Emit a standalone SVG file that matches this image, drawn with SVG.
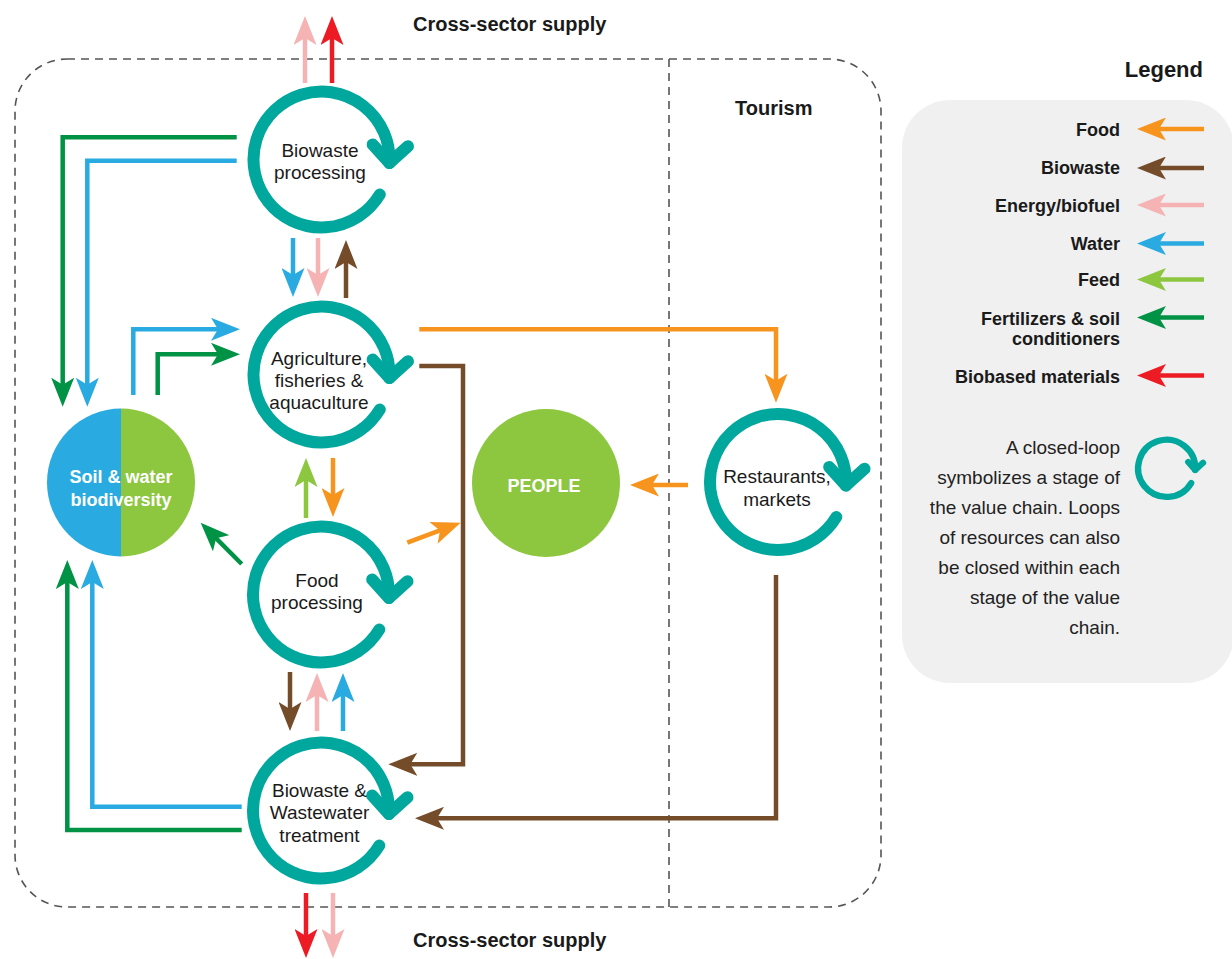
<svg xmlns="http://www.w3.org/2000/svg" xmlns:xlink="http://www.w3.org/1999/xlink" width="1232" height="959" viewBox="0 0 1232 959">
<style>
text{font-family:"Liberation Sans",Arial,sans-serif;fill:#1a1a1a}
.lbl{font-size:19px;text-anchor:middle}
.b{font-weight:bold}
.wt{font-weight:bold;fill:#fff;font-size:18px;text-anchor:middle}
.leg{font-size:18px;font-weight:bold;text-anchor:end}
.desc{font-size:19px;text-anchor:end;fill:#222}
.ring{fill:none;stroke:#00a79d;stroke-width:12;stroke-linecap:round;stroke-linejoin:round}
.c{fill:none;stroke-width:4.5;stroke-linejoin:miter}
.or{stroke:#f7941d}.br{stroke:#754c29}.pk{stroke:#f5b3b4}.bl{stroke:#29abe2}.lg{stroke:#8dc63f}.dg{stroke:#009245}.rd{stroke:#ed1c24}
.dash{fill:none;stroke:#555;stroke-width:1.6;stroke-dasharray:8 6}
</style>
<defs>
<marker id="m-or" viewBox="0 0 29 23" refX="19" refY="11.5" markerWidth="29" markerHeight="23" markerUnits="userSpaceOnUse" orient="auto"><path d="M29,11.5 L0,0 L7,11.5 L0,23 Z" fill="#f7941d"/></marker>
<marker id="m-br" viewBox="0 0 29 23" refX="19" refY="11.5" markerWidth="29" markerHeight="23" markerUnits="userSpaceOnUse" orient="auto"><path d="M29,11.5 L0,0 L7,11.5 L0,23 Z" fill="#754c29"/></marker>
<marker id="m-pk" viewBox="0 0 29 23" refX="19" refY="11.5" markerWidth="29" markerHeight="23" markerUnits="userSpaceOnUse" orient="auto"><path d="M29,11.5 L0,0 L7,11.5 L0,23 Z" fill="#f5b3b4"/></marker>
<marker id="m-bl" viewBox="0 0 29 23" refX="19" refY="11.5" markerWidth="29" markerHeight="23" markerUnits="userSpaceOnUse" orient="auto"><path d="M29,11.5 L0,0 L7,11.5 L0,23 Z" fill="#29abe2"/></marker>
<marker id="m-lg" viewBox="0 0 29 23" refX="19" refY="11.5" markerWidth="29" markerHeight="23" markerUnits="userSpaceOnUse" orient="auto"><path d="M29,11.5 L0,0 L7,11.5 L0,23 Z" fill="#8dc63f"/></marker>
<marker id="m-dg" viewBox="0 0 29 23" refX="19" refY="11.5" markerWidth="29" markerHeight="23" markerUnits="userSpaceOnUse" orient="auto"><path d="M29,11.5 L0,0 L7,11.5 L0,23 Z" fill="#009245"/></marker>
<marker id="m-rd" viewBox="0 0 29 23" refX="19" refY="11.5" markerWidth="29" markerHeight="23" markerUnits="userSpaceOnUse" orient="auto"><path d="M29,11.5 L0,0 L7,11.5 L0,23 Z" fill="#ed1c24"/></marker>
<g id="loop">
<path d="M58.29,35.02 A68,68 0 1 1 67.91,3.56"/>
<path d="M51.18,-15.02 L67.91,3.56 L86.49,-13.17"/>
</g>
</defs>

<rect width="1232" height="959" fill="#fff"/>

<g id="frame">
<rect class="dash" x="15" y="59" width="866" height="848" rx="52"/>
<line class="dash" x1="669" y1="59" x2="669" y2="907"/>
<text class="b" x="413" y="31" font-size="20">Cross-sector supply</text>
<text class="b" x="413" y="947" font-size="20">Cross-sector supply</text>
<text class="b" x="735" y="115" font-size="20">Tourism</text>
</g>

<g id="connectors">
<line class="c pk" x1="305" y1="83" x2="305" y2="26" marker-end="url(#m-pk)"/>
<line class="c rd" x1="332" y1="83" x2="332" y2="26" marker-end="url(#m-rd)"/>
<path class="c dg" d="M236.7,137.3 H62.7 V396.7" marker-end="url(#m-dg)"/>
<path class="c bl" d="M236.7,160.7 H87.3 V396.7" marker-end="url(#m-bl)"/>
<path class="c bl" d="M133.3,395 V329.3 H230" marker-end="url(#m-bl)"/>
<path class="c dg" d="M157.7,395 V354.3 H230" marker-end="url(#m-dg)"/>
<line class="c bl" x1="293" y1="238" x2="293" y2="287" marker-end="url(#m-bl)"/>
<line class="c pk" x1="318" y1="238" x2="318" y2="287" marker-end="url(#m-pk)"/>
<line class="c br" x1="346" y1="298" x2="346" y2="250" marker-end="url(#m-br)"/>
<line class="c lg" x1="306" y1="518" x2="306" y2="468" marker-end="url(#m-lg)"/>
<line class="c or" x1="333" y1="458" x2="333" y2="507" marker-end="url(#m-or)"/>
<line class="c dg" x1="241.7" y1="564" x2="207.7" y2="529.8" marker-end="url(#m-dg)"/>
<line class="c or" x1="407.3" y1="542.7" x2="451.3" y2="526.2" marker-end="url(#m-or)"/>
<path class="c or" d="M419.3,329.3 H776 V392.7" marker-end="url(#m-or)"/>
<path class="c br" d="M419.3,366 H463 V764.3 H398.3" marker-end="url(#m-br)"/>
<line class="c or" x1="688" y1="485" x2="640" y2="485" marker-end="url(#m-or)"/>
<path class="c br" d="M776,575 V818.3 H425" marker-end="url(#m-br)"/>
<line class="c br" x1="290" y1="672" x2="290" y2="721" marker-end="url(#m-br)"/>
<line class="c pk" x1="317" y1="731" x2="317" y2="683" marker-end="url(#m-pk)"/>
<line class="c bl" x1="343" y1="731" x2="343" y2="683" marker-end="url(#m-bl)"/>
<line class="c rd" x1="306" y1="893" x2="306" y2="948" marker-end="url(#m-rd)"/>
<line class="c pk" x1="333" y1="893" x2="333" y2="948" marker-end="url(#m-pk)"/>
<path class="c bl" d="M241.7,806.7 H92.3 V570" marker-end="url(#m-bl)"/>
<path class="c dg" d="M241.7,830 H67.3 V570" marker-end="url(#m-dg)"/>
</g>

<g id="biowaste-processing">
<use xlink:href="#loop" href="#loop" class="ring" transform="translate(321.5,159.5)"/>
<text class="lbl" x="320" y="157">Biowaste</text>
<text class="lbl" x="320" y="179">processing</text>
</g>

<g id="agriculture">
<use xlink:href="#loop" href="#loop" class="ring" transform="translate(321.5,374.5)"/>
<text class="lbl" x="319" y="365">Agriculture,</text>
<text class="lbl" x="319" y="387">fisheries &amp;</text>
<text class="lbl" x="319" y="409">aquaculture</text>
</g>

<g id="food-processing">
<use xlink:href="#loop" href="#loop" class="ring" transform="translate(321,594.5)"/>
<text class="lbl" x="317" y="587">Food</text>
<text class="lbl" x="317" y="609">processing</text>
</g>

<g id="treatment">
<use xlink:href="#loop" href="#loop" class="ring" transform="translate(321,810.5)"/>
<text class="lbl" x="319.5" y="797">Biowaste &amp;</text>
<text class="lbl" x="319.5" y="819">Wastewater</text>
<text class="lbl" x="319.5" y="841.5">treatment</text>
</g>

<g id="restaurants">
<use xlink:href="#loop" href="#loop" class="ring" transform="translate(778,482)"/>
<text class="lbl" x="777" y="483">Restaurants,</text>
<text class="lbl" x="777" y="506">markets</text>
</g>

<g id="soil-water">
<path d="M121,408.5 A74,74 0 0 0 121,556.5 Z" fill="#29abe2"/>
<path d="M121,408.5 A74,74 0 0 1 121,556.5 Z" fill="#8dc63f"/>
<text class="wt" x="121" y="483">Soil &amp; water</text>
<text class="wt" x="121" y="506">biodiversity</text>
</g>

<g id="people">
<circle cx="546" cy="483" r="74" fill="#8dc63f"/>
<text class="wt" x="544" y="492">PEOPLE</text>
</g>

<g id="legend">
<text class="b" x="1203" y="77" font-size="22" text-anchor="end">Legend</text>
<rect x="902" y="100" width="332" height="583" rx="48" fill="#f0f0f0"/>
<text class="leg" x="1120" y="135.5">Food</text>
<text class="leg" x="1120" y="173.5">Biowaste</text>
<text class="leg" x="1120" y="211.5">Energy/biofuel</text>
<text class="leg" x="1120" y="250">Water</text>
<text class="leg" x="1120" y="286">Feed</text>
<text class="leg" x="1120" y="324.5">Fertilizers &amp; soil</text>
<text class="leg" x="1120" y="344.5">conditioners</text>
<text class="leg" x="1120" y="382.5">Biobased materials</text>
<line class="c or" x1="1204" y1="129" x2="1147" y2="129" marker-end="url(#m-or)"/>
<line class="c br" x1="1204" y1="168" x2="1147" y2="168" marker-end="url(#m-br)"/>
<line class="c pk" x1="1204" y1="205" x2="1147" y2="205" marker-end="url(#m-pk)"/>
<line class="c bl" x1="1204" y1="243.5" x2="1147" y2="243.5" marker-end="url(#m-bl)"/>
<line class="c lg" x1="1204" y1="279.5" x2="1147" y2="279.5" marker-end="url(#m-lg)"/>
<line class="c dg" x1="1204" y1="317.5" x2="1147" y2="317.5" marker-end="url(#m-dg)"/>
<line class="c rd" x1="1204" y1="375.5" x2="1147" y2="375.5" marker-end="url(#m-rd)"/>
<text class="desc" x="1120" y="454.3">A closed-loop</text>
<text class="desc" x="1120" y="484.3">symbolizes a stage of</text>
<text class="desc" x="1120" y="514.3">the value chain. Loops</text>
<text class="desc" x="1120" y="544.3">of resources can also</text>
<text class="desc" x="1120" y="574.3">be closed within each</text>
<text class="desc" x="1120" y="604.3">stage of the value</text>
<text class="desc" x="1120" y="634.3">chain.</text>
<use xlink:href="#loop" href="#loop" class="ring" style="stroke-width:15" transform="translate(1166.7,468.3) scale(0.42)"/>
</g>
</svg>
